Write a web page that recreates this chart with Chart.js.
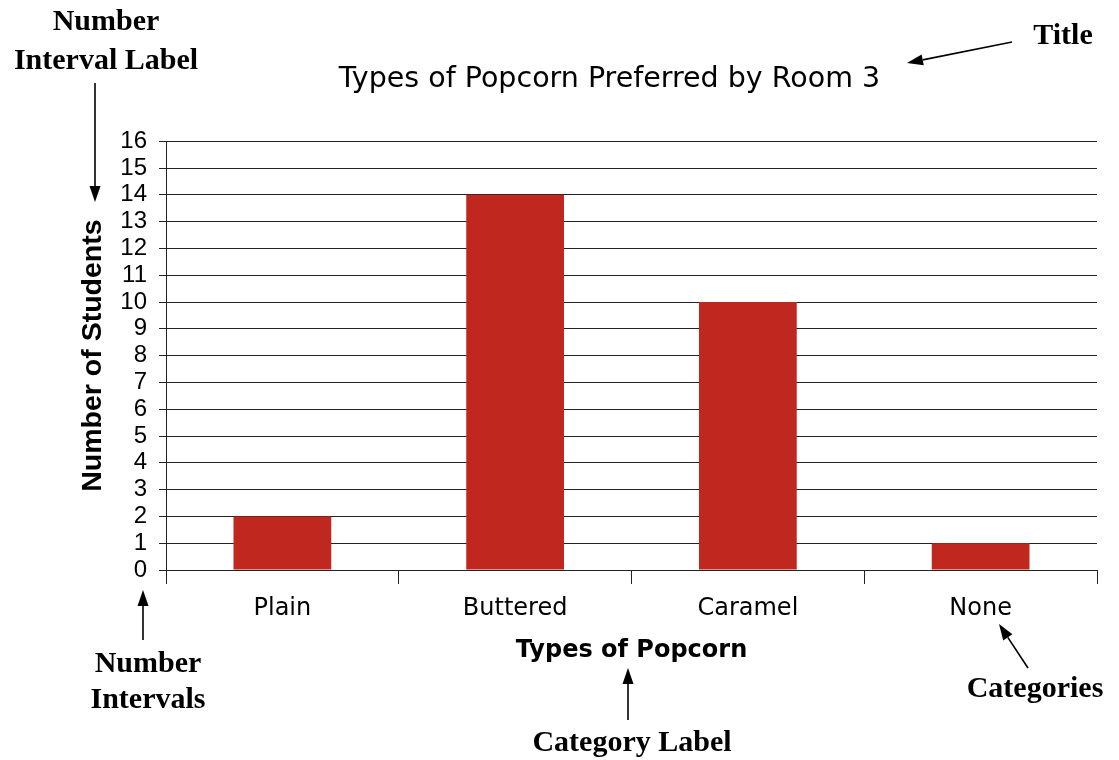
<!DOCTYPE html>
<html>
<head>
<meta charset="utf-8">
<script src="https://cdn.jsdelivr.net/npm/chart.js@4"></script>
<style>
  html, body { margin: 0; padding: 0; background: #fff; }
  #wrap { width: 1119px; height: 760px; }
</style>
</head>
<body>
<div id="wrap"><canvas id="popcornChart" width="1119" height="760"></canvas></div>
<script>
var popcornTypes = ["Plain", "Buttered", "Caramel", "None"];
var studentCounts = [2, 14, 10, 1];
var yTicks = [0, 16, 1]; // min, max, step

var barRed = "#c0271e";

// callout labels with arrows around the chart
var callouts = [
  { lines: ["Number", "Interval Label"], x: 106, y: [22, 61], arrow: [95, 83, 95, 202] },
  { lines: ["Title"], x: 1063, y: [36], arrow: [1012, 42, 907, 63] },
  { lines: ["Number", "Intervals"], x: 148, y: [664, 700], arrow: [143, 640, 143, 590] },
  { lines: ["Category Label"], x: 632, y: [743], arrow: [628, 720, 628, 668] },
  { lines: ["Categories"], x: 1035, y: [689], arrow: [1028, 668, 999, 624] }
];

function drawArrow(ctx, x1, y1, x2, y2) {
  var ang = Math.atan2(y2 - y1, x2 - x1);
  var len = 16, half = 5.5;
  var bx = x2 - len * Math.cos(ang), by = y2 - len * Math.sin(ang);
  ctx.beginPath();
  ctx.moveTo(x1, y1);
  ctx.lineTo(bx, by);
  ctx.lineWidth = 1.6;
  ctx.strokeStyle = "#000";
  ctx.stroke();
  ctx.beginPath();
  ctx.moveTo(x2, y2);
  ctx.lineTo(bx + half * Math.sin(ang), by - half * Math.cos(ang));
  ctx.lineTo(bx - half * Math.sin(ang), by + half * Math.cos(ang));
  ctx.closePath();
  ctx.fillStyle = "#000";
  ctx.fill();
}

var calloutPlugin = {
  id: "callouts",
  afterDraw: function (chart) {
    var ctx = chart.ctx;
    ctx.save();
    ctx.font = "bold 30px 'Liberation Serif', serif";
    ctx.fillStyle = "#000";
    ctx.textAlign = "center";
    ctx.textBaseline = "middle";
    callouts.forEach(function (c) {
      c.lines.forEach(function (t, i) {
        ctx.fillText(t, c.x, c.y[i]);
      });
      drawArrow(ctx, c.arrow[0], c.arrow[1], c.arrow[2], c.arrow[3]);
    });
    ctx.restore();
  }
};

var ctx = document.getElementById("popcornChart").getContext("2d");
var myChart = new Chart(ctx, {
  type: "bar",
  data: {
    labels: popcornTypes,
    datasets: [{
      label: "Number of Students",
      data: studentCounts,
      backgroundColor: barRed,
      borderWidth: 0,
      categoryPercentage: 1,
      barPercentage: 0.42
    }]
  },
  plugins: [calloutPlugin],
  options: {
    responsive: false,
    animation: false,
    layout: { padding: { left: 122, right: 22, top: 0, bottom: 0 } },
    plugins: {
      legend: { display: false },
      tooltip: { enabled: false },
      title: {
        display: true,
        text: "Types of Popcorn Preferred by Room 3",
        color: "#000",
        font: { family: "'DejaVu Sans'", size: 28.5, weight: "normal" },
        padding: { top: 62, bottom: 45 }
      }
    },
    scales: {
      x: {
        grid: {
          offset: true,
          drawOnChartArea: false,
          drawTicks: true,
          tickLength: 14,
          color: "#222"
        },
        border: { display: true, color: "#222", width: 1 },
        ticks: {
          color: "#000",
          padding: 10,
          font: { family: "'DejaVu Sans'", size: 24 }
        },
        title: {
          display: true,
          text: "Types of Popcorn",
          color: "#000",
          font: { family: "'DejaVu Sans'", size: 24, weight: "bold" },
          padding: { top: 0, bottom: 95 }
        },
        afterFit: function (scale) { scale.height = 190; }
      },
      y: {
        min: yTicks[0],
        max: yTicks[1],
        ticks: {
          stepSize: yTicks[2],
          autoSkip: false,
          color: "#000",
          padding: 12,
          font: { family: "'Liberation Sans'", size: 24 }
        },
        grid: { color: "#222", tickLength: 7 },
        border: { display: true, color: "#222", width: 1 },
        title: {
          display: true,
          text: "Number of Students",
          color: "#000",
          font: { family: "'Liberation Sans'", size: 28.5, weight: "bold" },
          padding: { top: -46, bottom: 0 }
        },
        afterFit: function (scale) { scale.width = 44; }
      }
    }
  }
});
</script>
</body>
</html>
